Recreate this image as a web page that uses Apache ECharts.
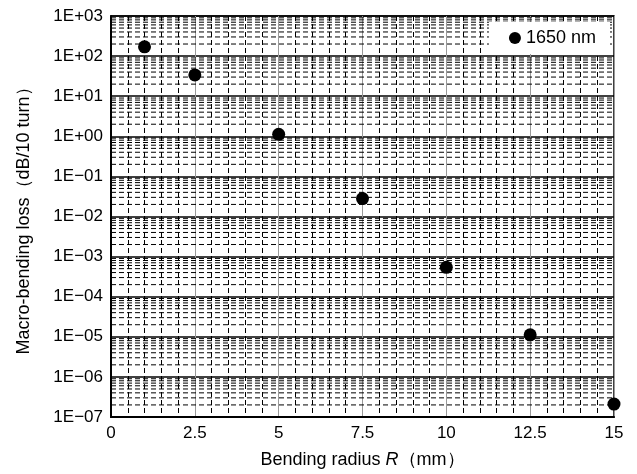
<!DOCTYPE html>
<html><head><meta charset="utf-8">
<script src="https://cdn.jsdelivr.net/npm/echarts@6/dist/echarts.min.js"></script>
<style>html,body{margin:0;padding:0;background:#fff}#c{width:637px;height:474px}</style>
</head><body><div id="c"></div>
<script>
const radius = [1, 2.5, 5, 7.5, 10, 12.5, 15];
const loss1650 = [170, 34, 1.12, 0.028, 5.4e-4, 1.12e-5, 2.1e-7];
const seriesName = '1650 nm';
const xTicks = [0, 2.5, 5, 7.5, 10, 12.5, 15];
const yDecades = [-7, -6, -5, -4, -3, -2, -1, 0, 1, 2, 3];

const minorVals = [];
for (let i = 0; i < yDecades.length - 1; i++) {
  for (let m = 2; m <= 9; m++) minorVals.push(m * Math.pow(10, yDecades[i]));
}
function fmtY(v) {
  const e = Math.round(Math.log10(v));
  const s = (e < 0 ? '\u2212' : '+') + String(Math.abs(e)).padStart(2, '0');
  return '1E' + s;
}
const xMin = xTicks[0], xMax = xTicks[xTicks.length - 1];
const font = 'Liberation Sans, Arial, Helvetica, sans-serif';
const chart = echarts.init(document.getElementById('c'), null, {renderer: 'canvas'});
chart.setOption({
  animation: false,
  textStyle: {fontFamily: font},
  grid: {left: 111, right: 23, top: 16, bottom: 55, show: true, borderColor: '#000', borderWidth: 1.5, containLabel: false},
  legend: {
    right: 27, top: 22, backgroundColor: '#fff', padding: [7, 14, 7, 20], z: 20, zlevel: 1,
    itemWidth: 12, itemHeight: 12, itemGap: 4,
    data: [{name: seriesName, icon: 'circle', itemStyle: {color: '#000', opacity: 1}}],
    textStyle: {fontSize: 18, color: '#000', fontFamily: font}
  },
  xAxis: {
    type: 'value', min: xMin, max: xMax, interval: 2.5,
    axisLine: {show: true, lineStyle: {color: '#000', width: 2}},
    axisTick: {show: false},
    axisLabel: {color: '#000', fontSize: 17, margin: 8, fontFamily: font},
    splitLine: {show: true, lineStyle: {color: '#999', width: 1, type: 'solid'}},
    minorTick: {show: false, splitNumber: 5},
    minorSplitLine: {show: true, lineStyle: {color: '#000', width: 1, type: [5, 3]}},
    name: '{a|Bending radius }{i|R}{a|\uFF08mm\uFF09}',
    nameLocation: 'middle', nameGap: 34,
    nameTextStyle: {rich: {
      a: {fontSize: 18, color: '#000', fontFamily: font},
      i: {fontSize: 18, color: '#000', fontStyle: 'italic', fontFamily: font}
    }}
  },
  yAxis: {
    type: 'log', logBase: 10, min: 1e-7, max: 1e3, interval: 1, splitNumber: 10,
    axisLine: {show: true, lineStyle: {color: '#000', width: 2}},
    axisTick: {show: false},
    axisLabel: {color: '#000', fontSize: 17, margin: 8, formatter: fmtY, fontFamily: font},
    splitLine: {show: true, lineStyle: {color: '#000', width: 1.5, type: 'solid'}},
    name: 'Macro-bending loss\uFF08dB/10 turn\uFF09',
    nameLocation: 'middle', nameGap: 78,
    nameTextStyle: {fontSize: 18, color: '#000', fontFamily: font}
  },
  series: [
    {
      type: 'custom', silent: true, z: 1, clip: true,
      data: minorVals.map(v => [v]),
      encode: {y: 0},
      renderItem: function (params, api) {
        const v = api.value(0);
        const p0 = api.coord([xMin, v]);
        const p1 = api.coord([xMax, v]);
        return {
          type: 'line',
          shape: {x1: p0[0], y1: p0[1], x2: p1[0], y2: p1[1]},
          style: {stroke: '#000', lineWidth: 1, lineDash: [5, 3]}
        };
      }
    },
    {
      name: seriesName, type: 'scatter', symbol: 'circle', symbolSize: 13, z: 5,
      itemStyle: {color: '#000', opacity: 1},
      data: radius.map((r, i) => [r, loss1650[i]])
    }
  ]
});
</script></body></html>
